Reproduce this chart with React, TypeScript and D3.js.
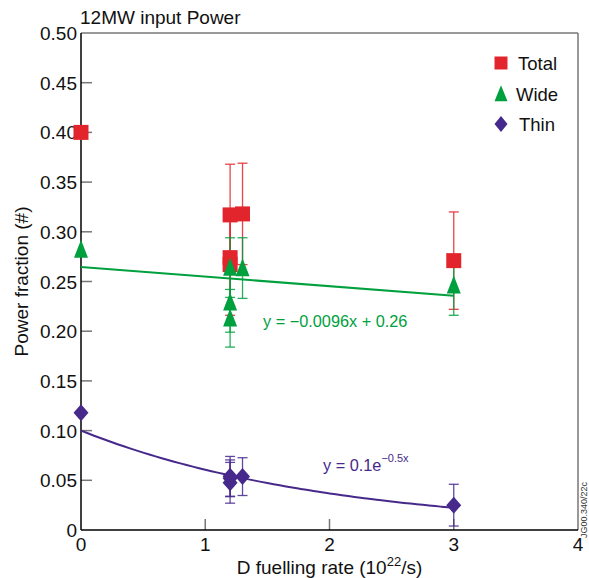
import React from "react";
import * as d3 from "d3";

// Fuelling rate (10^22/s) for each shot
const totalX = [0, 1.2, 1.3, 1.2, 1.2, 3];
const totalY = [0.4, 0.317, 0.318, 0.274, 0.267, 0.271];
const totalErr = [0, 0.051, 0.051, 0.048, 0.051, 0.049];

const wideX = [0, 1.2, 1.3, 1.2, 1.2, 3];
const wideY = [0.282, 0.264, 0.2635, 0.229, 0.213, 0.246];
const wideErr = [0, 0.03, 0.0305, 0.03, 0.029, 0.03];

const thinX = [0, 1.2, 1.3, 1.2, 1.2, 3];
const thinY = [0.118, 0.054, 0.0537, 0.0475, 0.052, 0.025];
const thinErr = [0, 0.02, 0.019, 0.0205, 0.0185, 0.021];

// Fit parameters
const wideSlope = -0.0096;
const wideIntercept = 0.2645;
const thinA = 0.1;
const thinK = -0.5;
const fitRange = [0, 3];

const xTicks = [0, 1, 2, 3, 4];
const yTicks = [0, 0.05, 0.1, 0.15, 0.2, 0.25, 0.3, 0.35, 0.4, 0.45, 0.5];

const RED = "#e2252c";
const GREEN = "#00a03e";
const PURPLE = "#47298c";
const FONT = "'Liberation Sans', Arial, Helvetica, sans-serif";

const W = 589;
const H = 578;

const x = d3.scaleLinear().domain([0, 4]).range([81, 578]);
const y = d3.scaleLinear().domain([0, 0.5]).range([530, 33]);

function squarePath(cx: number, cy: number, s: number) {
  const h = s / 2;
  return `M${cx - h},${cy - h}H${cx + h}V${cy + h}H${cx - h}Z`;
}
function trianglePath(cx: number, cy: number, w: number, h: number) {
  return `M${cx},${cy - h * 0.55}L${cx + w / 2},${cy + h * 0.45}L${cx - w / 2},${cy + h * 0.45}Z`;
}
function diamondPath(cx: number, cy: number, w: number, h: number) {
  return `M${cx},${cy - h / 2}L${cx + w / 2},${cy}L${cx},${cy + h / 2}L${cx - w / 2},${cy}Z`;
}

function ErrorBars({ xs, ys, errs, color }: { xs: number[]; ys: number[]; errs: number[]; color: string }) {
  return (
    <g stroke={color} strokeWidth={1.3} strokeOpacity={0.85}>
      {xs.map((xv, i) => {
        if (!errs[i]) return null;
        const cx = x(xv);
        const y1 = y(ys[i] + errs[i]);
        const y2 = y(ys[i] - errs[i]);
        return (
          <g key={i}>
            <line x1={cx} x2={cx} y1={y1} y2={y2} />
            <line x1={cx - 5} x2={cx + 5} y1={y1} y2={y1} />
            <line x1={cx - 5} x2={cx + 5} y1={y2} y2={y2} />
          </g>
        );
      })}
    </g>
  );
}

export default function App() {
  const wideLine = d3
    .line<number>()
    .x((d) => x(d))
    .y((d) => y(wideSlope * d + wideIntercept))(fitRange);

  const curveXs = d3.range(fitRange[0], fitRange[1] + 0.001, 0.05);
  const thinLine = d3
    .line<number>()
    .x((d) => x(d))
    .y((d) => y(thinA * Math.exp(thinK * d)))
    .curve(d3.curveMonotoneX)(curveXs);

  return (
    <svg width={W} height={H} style={{ position: "absolute", left: 0, top: 0 }} fontFamily={FONT}>
      <rect width={W} height={H} fill="#fff" />

      {/* frame */}
      <line x1={x(0)} x2={x(4)} y1={y(0.5)} y2={y(0.5)} stroke="#777" strokeWidth={1.5} />
      <line x1={x(4)} x2={x(4)} y1={y(0.5)} y2={y(0)} stroke="#777" strokeWidth={1.5} />

      {/* ticks */}
      {yTicks.slice(1, -1).map((t) => (
        <line key={t} x1={x(0)} x2={x(0) + 11} y1={y(t)} y2={y(t)} stroke="#777" strokeWidth={1.5} />
      ))}
      {xTicks.slice(1, -1).map((t) => (
        <line key={t} x1={x(t)} x2={x(t)} y1={y(0)} y2={y(0) - 11} stroke="#777" strokeWidth={1.5} />
      ))}

      <line x1={x(0)} x2={x(0)} y1={y(0.5)} y2={y(0)} stroke="#000" strokeWidth={1.5} />
      <line x1={x(0)} x2={x(4)} y1={y(0)} y2={y(0)} stroke="#000" strokeWidth={1.5} />

      {/* tick labels */}
      {yTicks.map((t) => (
        <text key={t} x={77} y={y(t) + 7} textAnchor="end" fontSize={19} fill="#111">
          {t === 0 ? "0" : t.toFixed(2)}
        </text>
      ))}
      {xTicks.map((t) => (
        <text key={t} x={x(t)} y={551} textAnchor="middle" fontSize={19} fill="#111">
          {t}
        </text>
      ))}

      {/* titles */}
      <text x={80} y={24} fontSize={19} fill="#111">
        12MW input Power
      </text>
      <text x={x(2)} y={574} textAnchor="middle" fontSize={19} fill="#111">
        D fuelling rate (10
        <tspan fontSize={13} dy={-8}>22</tspan>
        <tspan dy={8}>/s)</tspan>
      </text>
      <text
        transform={`translate(28,${(y(0) + y(0.5)) / 2}) rotate(-90)`}
        textAnchor="middle"
        fontSize={19}
        fill="#111"
      >
        Power fraction (#)
      </text>
      <text transform="translate(586.5,538) rotate(-90)" fontSize={9} fill="#333">
        JG00.340/22c
      </text>

      {/* fits */}
      <path d={wideLine ?? ""} fill="none" stroke={GREEN} strokeWidth={2} />
      <path d={thinLine ?? ""} fill="none" stroke={PURPLE} strokeWidth={2} />

      {/* error bars */}
      <ErrorBars xs={totalX} ys={totalY} errs={totalErr} color={RED} />
      <ErrorBars xs={wideX} ys={wideY} errs={wideErr} color={GREEN} />
      <ErrorBars xs={thinX} ys={thinY} errs={thinErr} color={PURPLE} />

      {/* markers */}
      {totalX.map((xv, i) => (
        <path key={`t${i}`} d={squarePath(x(xv), y(totalY[i]), 15)} fill={RED} />
      ))}
      {wideX.map((xv, i) => (
        <path key={`w${i}`} d={trianglePath(x(xv), y(wideY[i]), 14, 18)} fill={GREEN} />
      ))}
      {thinX.map((xv, i) => (
        <path key={`n${i}`} d={diamondPath(x(xv), y(thinY[i]), 15, 17)} fill={PURPLE} />
      ))}

      {/* fit equations */}
      <text x={263} y={327} fontSize={16.3} fill={GREEN}>
        {`y = \u2212${Math.abs(wideSlope)}x + ${wideIntercept.toFixed(2)}`}
      </text>
      <text x={323} y={471} fontSize={16.3} fill={PURPLE}>
        {`y = ${thinA}e`}
        <tspan fontSize={11} dy={-9}>{`\u2212${Math.abs(thinK)}x`}</tspan>
      </text>

      {/* legend */}
      <path d={squarePath(501, 63, 13)} fill={RED} />
      <text x={518} y={70} fontSize={18.5} fill="#111">Total</text>
      <path d={trianglePath(501, 94, 13, 16)} fill={GREEN} />
      <text x={516} y={101} fontSize={18.5} fill="#111">Wide</text>
      <path d={diamondPath(501, 124, 13, 16)} fill={PURPLE} />
      <text x={519} y={131} fontSize={18.5} fill="#111">Thin</text>
    </svg>
  );
}
